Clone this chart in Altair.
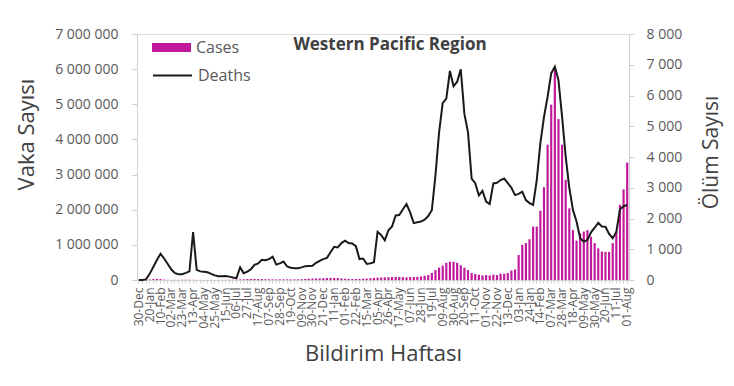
import altair as alt
import pandas as pd

# ---- data ----
tick_labels = ["30-Dec","20-Jan","10-Feb","02-Mar","23-Mar","13-Apr","04-May","25-May","15-Jun",
               "06-Jul","27-Jul","17-Aug","07-Sep","28-Sep","19-Oct","09-Nov","30-Nov","21-Dec",
               "11-Jan","01-Feb","22-Feb","15-Mar","05-Apr","26-Apr","17-May","07-Jun","28-Jun",
               "19-Jul","09-Aug","30-Aug","20-Sep","11-Oct","01-Nov","22-Nov","13-Dec","03-Jan",
               "24-Jan","14-Feb","07-Mar","28-Mar","18-Apr","09-May","30-May","20-Jun","11-Jul","01-Aug"]

cases_m = [0, 0.0005, 0.005, 0.015, 0.025, 0.03, 0.025, 0.012, 0.006, 0.004,
           0.004, 0.005, 0.006, 0.007, 0.008, 0.006, 0.004, 0.003, 0.002, 0.002,
           0.002, 0.002, 0.003, 0.004, 0.005, 0.007, 0.01, 0.013, 0.016, 0.02,
           0.025, 0.028, 0.03, 0.028, 0.025, 0.022, 0.02, 0.018, 0.017, 0.017,
           0.018, 0.018, 0.017, 0.018, 0.02, 0.024, 0.03, 0.035, 0.04, 0.042,
           0.045, 0.05, 0.055, 0.06, 0.06, 0.055, 0.045, 0.035, 0.03, 0.028,
           0.03, 0.032, 0.035, 0.04, 0.05, 0.06, 0.065, 0.07, 0.075, 0.08,
           0.085, 0.09, 0.085, 0.08, 0.075, 0.08, 0.085, 0.09, 0.1, 0.12,
           0.14, 0.2, 0.28, 0.35, 0.41, 0.49, 0.52, 0.52, 0.49, 0.42,
           0.35, 0.28, 0.2, 0.17, 0.15, 0.13, 0.14, 0.13, 0.15, 0.14,
           0.18, 0.18, 0.2, 0.27, 0.3, 0.71, 1.0, 1.05, 1.16, 1.52,
           1.52, 1.97, 2.64, 3.85, 4.99, 6.03, 4.58, 3.85, 2.85, 2.04,
           1.42, 1.12, 1.33, 1.38, 1.42, 1.23, 1.05, 0.90, 0.81, 0.80,
           0.80, 1.05, 1.38, 2.14, 2.58, 3.34]

deaths = [0, 0, 20, 200, 420, 650, 850, 700, 520, 340,
          220, 185, 190, 230, 280, 1560, 330, 280, 265, 250,
          200, 150, 120, 120, 130, 110, 80, 60, 410, 220,
          270, 350, 490, 540, 660, 640, 680, 760, 500, 540,
          600, 440, 400, 380, 380, 410, 450, 455, 460, 560,
          620, 680, 720, 900, 1080, 1060, 1200, 1280, 1200, 1190,
          1100, 680, 700, 520, 540, 580, 1570, 1460, 1290, 1620,
          1740, 2100, 2110, 2300, 2470, 2200, 1850, 1880, 1900, 1960,
          2080, 2270, 3400, 4800, 5750, 5900, 6800, 6300, 6450, 6850,
          5400, 4800, 3300, 3150, 2750, 2900, 2550, 2470, 3140, 3160,
          3250, 3300, 3150, 3000, 2760, 2800, 2870, 2600, 2500, 2440,
          3250, 4450, 5300, 5960, 6720, 6940, 6500, 5310, 4010, 3000,
          2280, 1900, 1360, 1250, 1300, 1550, 1700, 1860, 1740, 1730,
          1500, 1360, 1560, 2300, 2400, 2440]

n = len(deaths)
df = pd.DataFrame({
    "w": list(range(n)),
    "cases": [c * 1_000_000 for c in cases_m],
    "deaths": deaths,
    "s1": ["Cases"] * n,
    "s2": ["Deaths"] * n,
})

FONT = "Open Sans"
LAB = "#595959"
TIT = "#404040"
AX = "#D0D0D0"

arr = "[" + ",".join("'" + t + "'" for t in tick_labels) + "]"
xlabel_expr = f"datum.value % 3 == 0 ? {arr}[datum.value / 3] : ''"
space_fmt = "replace(replace(format(datum.value, ','), ',', ' '), ',', ' ')"

xenc = alt.X("w:O",
             scale=alt.Scale(domain=list(range(n)), paddingInner=0.4, paddingOuter=0.2),
             axis=alt.Axis(title="Bildirim Haftası", labelExpr=xlabel_expr, labelAngle=270,
                           labelAlign="right", labelBaseline="middle", labelOverlap=False,
                           labelFontSize=12, labelColor=LAB, labelFont=FONT, labelPadding=4,
                           tickSize=3, tickColor=AX, domainColor=AX,
                           titleFontSize=22, titleFont=FONT, titleColor=TIT,
                           titleFontWeight="normal", titlePadding=15))

base = alt.Chart(df)

bars = base.mark_bar().encode(
    x=xenc,
    y=alt.Y("cases:Q", scale=alt.Scale(domain=[0, 7_000_000]),
            axis=alt.Axis(title="Vaka Sayısı", values=[i * 1_000_000 for i in range(8)],
                          labelExpr=space_fmt, grid=False, orient="left",
                          labelFontSize=14, labelFont=FONT, labelColor=LAB, labelPadding=14,
                          tickSize=5, tickColor=AX, domainColor=AX,
                          titleFontSize=22, titleFont=FONT, titleColor=TIT, titleY=100,
                          titleFontWeight="normal", titlePadding=16)),
    fill=alt.Fill("s1:N", scale=alt.Scale(domain=["Cases"], range=["#C0179B"]),
                  legend=alt.Legend(title=None, orient="none", legendX=15, legendY=-6,
                                    symbolType="M-1,-0.23H1V0.23H-1Z", symbolSize=1521,
                                    symbolStrokeWidth=0, labelFontSize=16, labelFont=FONT,
                                    labelColor=LAB, labelOffset=5)),
)

line = base.mark_line(strokeWidth=2).encode(
    x=alt.X("w:O", bandPosition=0.5),
    y=alt.Y("deaths:Q", scale=alt.Scale(domain=[0, 8000]),
            axis=alt.Axis(title="Ölüm Sayısı", values=[i * 1000 for i in range(9)],
                          labelExpr=space_fmt, grid=False, orient="right",
                          labelFontSize=14, labelFont=FONT, labelColor=LAB, labelPadding=12,
                          tickSize=5, tickColor=AX, domainColor=AX,
                          titleFontSize=21, titleFont=FONT, titleColor=TIT, titleAngle=270,
                          titleY=118, titleFontWeight="normal", titlePadding=40)),
    stroke=alt.Stroke("s2:N", scale=alt.Scale(domain=["Deaths"], range=["#1A1A1A"]),
                      legend=alt.Legend(title=None, orient="none", legendX=15, legendY=21,
                                        symbolType="stroke", symbolSize=1521,
                                        symbolStrokeWidth=2, labelFontSize=16, labelFont=FONT,
                                        labelColor=LAB, labelOffset=5)),
)

title = alt.Chart(pd.DataFrame({"t": ["Western Pacific Region"]})).mark_text(
    fontSize=17, fontWeight="bold", font=FONT, color=TIT, align="center", baseline="middle"
).encode(text="t:N", x=alt.value(253), y=alt.value(11))

chart = alt.layer(bars, line, title).resolve_scale(y="independent").properties(
    width=492, height=246,
    autosize=alt.AutoSizeParams(type="none"),
    padding={"left": 129, "top": 26, "right": 97, "bottom": 90},
).configure_view(stroke=None).configure(background="white")

chart.save("out.html", embed_options={"renderer": "svg", "actions": False})
